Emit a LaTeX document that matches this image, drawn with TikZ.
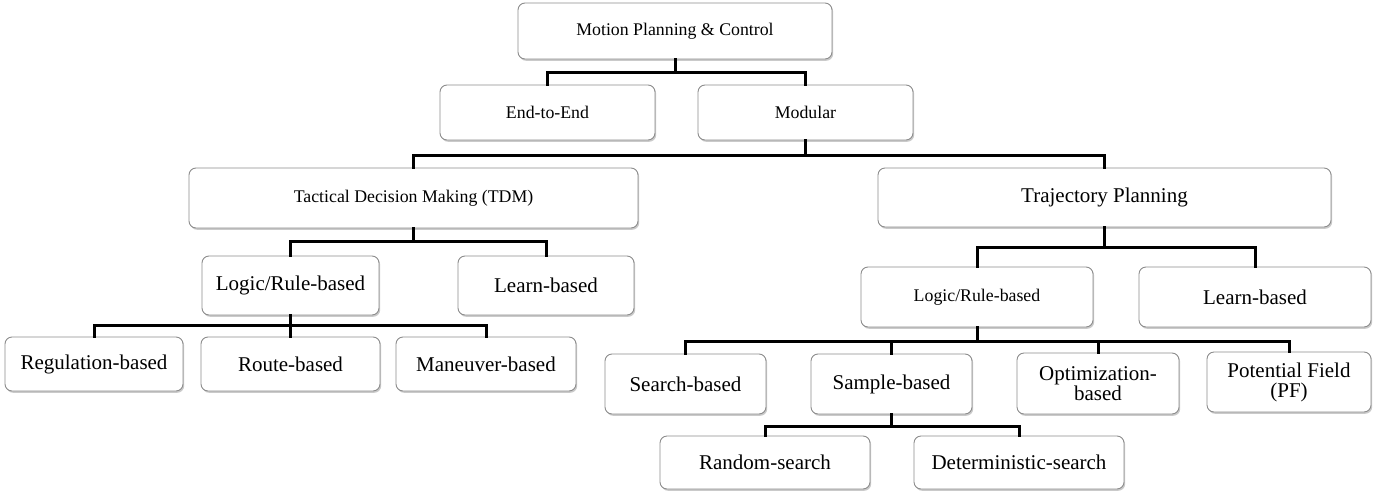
\documentclass[tikz,border=0pt]{standalone}
\usepackage{fontspec}
\setmainfont{Liberation Serif}
\usetikzlibrary{shadows}
\begin{document}
\begin{tikzpicture}[x=1pt,y=-1pt,
  box/.style={draw=black!45, line width=0.9pt, fill=white, rounded corners=7pt,
    drop shadow={shadow xshift=1.2pt, shadow yshift=-1.8pt, opacity=0.35, fill=black!60},
    align=center, inner sep=2pt, text=black},
  sm/.style={font=\fontsize{17.8}{20}\selectfont},
  lg/.style={font=\fontsize{21}{20}\selectfont},
  conn/.style={line width=3pt, line join=miter, line cap=rect}]
\useasboundingbox (0,0) rectangle (1377,493);

% level 0-1
\node[box,sm,minimum width=314pt,minimum height=56pt] (mpc) at (675,31) {Motion Planning \& Control};
\node[box,sm,minimum width=215pt,minimum height=55pt] (e2e) at (547.5,112.5) {End-to-End};
\node[box,sm,minimum width=215pt,minimum height=55pt] (mod) at (805.5,112.5) {Modular};
% level 2
\node[box,sm,minimum width=449pt,minimum height=60pt] (tdm) at (413.5,198) {Tactical Decision Making (TDM)};
\node[box,lg,minimum width=453pt,minimum height=59pt] (tp) at (1104.5,197.5) {Trajectory Planning};
% left subtree
\node[box,lg,minimum width=177pt,minimum height=59pt] (llr) at (290.5,285.5) {Logic/Rule-based};
\node[box,lg,minimum width=176pt,minimum height=59pt] (llb) at (546,285.5) {Learn-based};
\node[box,lg,minimum width=178pt,minimum height=54pt] (reg) at (94,364) {Regulation-based};
\node[box,lg,minimum width=179pt,minimum height=54pt] (route) at (290.5,364) {Route-based};
\node[box,lg,minimum width=180pt,minimum height=54pt] (man) at (486,364) {Maneuver-based};
% right subtree
\node[box,sm,minimum width=232pt,minimum height=60pt] (rlr) at (977,297) {Logic/Rule-based};
\node[box,lg,minimum width=232pt,minimum height=60pt] (rlb) at (1255,297) {Learn-based};
\node[box,lg,minimum width=161pt,minimum height=60pt] (search) at (685.5,384) {Search-based};
\node[box,lg,minimum width=161pt,minimum height=60pt] (sample) at (891.5,384) {Sample-based};
\node[box,lg,minimum width=162pt,minimum height=61pt] (opt) at (1098,383.5) {Optimization-\\based};
\node[box,lg,minimum width=164pt,minimum height=60pt] (pf) at (1289,382) {Potential Field\\(PF)};
\node[box,lg,minimum width=210pt,minimum height=53pt] (rand) at (765,462.5) {Random-search};
\node[box,lg,minimum width=210pt,minimum height=53pt] (det) at (1019,462.5) {Deterministic-search};

% connectors
\foreach \p/\yy/\c in {mpc/72/e2e, mpc/72/mod,
                        mod/155/tdm, mod/155/tp,
                        tdm/241/llr, tdm/241/llb,
                        llr/325/reg, llr/325/route, llr/325/man,
                        tp/247/rlr, tp/247/rlb,
                        rlr/341/search, rlr/341/sample, rlr/341/opt, rlr/341/pf,
                        sample/426/rand, sample/426/det}
  \draw[conn] (\p.south) -- (\p.south |- 0,\yy) -| (\c.north);
\end{tikzpicture}
\end{document}
